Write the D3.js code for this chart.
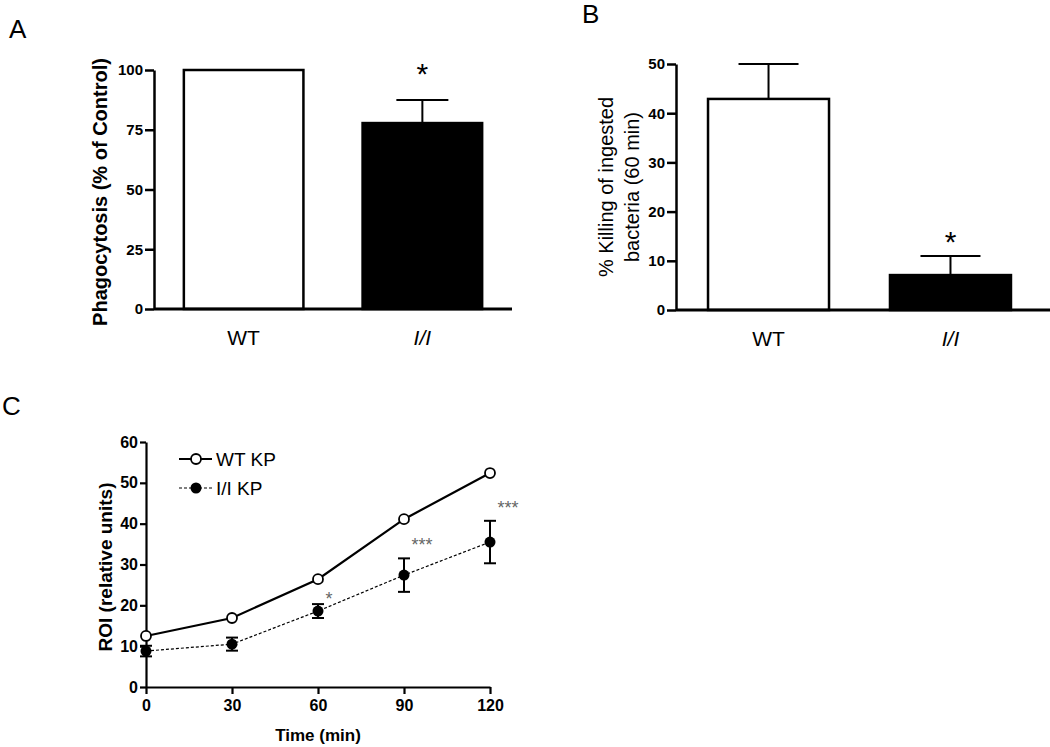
<!DOCTYPE html>
<html lang="en">
<head>
<meta charset="UTF-8">
<title>Phagocytosis, killing and ROI</title>
<script src="https://d3js.org/d3.v7.min.js"></script>
<style>
  body { margin: 0; background: #fff; }
  svg { font-family: "Liberation Sans", Arial, sans-serif; }
  .axis path, .axis line { stroke: #000; }
</style>
</head>
<body>
<svg id="chart" width="1050" height="747"></svg>
<script>
// panel A data
var groupsA = ["WT", "I/I"];
var phagoMean = [100, 77.8];
var phagoErr = [0, 9.6];
var ticksA = [0, 25, 50, 75, 100];

// panel B data
var groupsB = ["WT", "I/I"];
var killMean = [42.9, 7.1];
var killErr = [7.1, 3.9];
var ticksB = [0, 10, 20, 30, 40, 50];

// panel C data
var times = [0, 30, 60, 90, 120];
var wtROI = [12.5, 16.9, 26.4, 41.1, 52.4];
var iiROI = [8.8, 10.5, 18.6, 27.4, 35.5];
var iiErr = [1.3, 1.6, 1.7, 4.1, 5.2];
var sigC = ["", "", "*", "***", "***"];
var ticksCy = [0, 10, 20, 30, 40, 50, 60];

var svg = d3.select("#chart");

// panel letters
svg.append("text").attr("x", 9).attr("y", 38).text("A").style("font-size", "26px");
svg.append("text").attr("x", 582).attr("y", 23).text("B").style("font-size", "26px");
svg.append("text").attr("x", 2).attr("y", 415).text("C").style("font-size", "26px");

function styleTicks(ax, size, w) {
  ax.selectAll(".tick text").style("font-size", size + "px").style("font-weight", "bold")
    .attr("fill", "#000");
  ax.select(".domain").attr("stroke-width", w);
  ax.selectAll(".tick line").attr("stroke-width", w);
}

function barPanel(opt) {
  var g = svg.append("g");
  var y = d3.scaleLinear().domain(opt.domain).range(opt.yRange);
  var x = d3.scaleBand().domain(opt.groups).range(opt.xRange)
            .paddingInner(opt.pin).paddingOuter(opt.pout);

  // bars
  g.selectAll("rect.bar")
    .data(opt.groups)
    .join("rect")
      .attr("class", "bar")
      .attr("x", function(d){ return x(d); })
      .attr("y", function(d, i){ return y(opt.mean[i]); })
      .attr("width", x.bandwidth())
      .attr("height", function(d, i){ return y(0) - y(opt.mean[i]); })
      .attr("fill", function(d, i){ return i == 0 ? "#fff" : "#000"; })
      .attr("stroke", "#000")
      .attr("stroke-width", 2.5);

  // error bars (upward only)
  opt.groups.forEach(function(d, i){
    if (!opt.err[i]) return;
    var cx = x(d) + x.bandwidth() / 2;
    var top = y(opt.mean[i] + opt.err[i]);
    g.append("line").attr("x1", cx).attr("x2", cx)
      .attr("y1", y(opt.mean[i])).attr("y2", top)
      .attr("stroke", "#000").attr("stroke-width", 2);
    g.append("line").attr("x1", cx - opt.cap).attr("x2", cx + opt.cap)
      .attr("y1", top).attr("y2", top)
      .attr("stroke", "#000").attr("stroke-width", 2);
  });

  // significance star
  var si = 1;
  var sx = x(opt.groups[si]) + x.bandwidth() / 2;
  g.append("text").attr("x", sx).attr("y", y(opt.mean[si] + opt.err[si]) - opt.starGap)
    .attr("text-anchor", "middle").style("font-size", "30px").text("*");

  // y axis
  var ax = g.append("g").attr("class", "axis")
    .attr("transform", "translate(" + opt.xRange[0] + ",0)")
    .call(d3.axisLeft(y).tickValues(opt.ticks).tickSize(9).tickSizeOuter(0).tickPadding(2));
  styleTicks(ax, 15, 2.5);

  // x axis line
  g.append("line").attr("x1", opt.xRange[0]).attr("x2", opt.xEnd)
    .attr("y1", y(0)).attr("y2", y(0))
    .attr("stroke", "#000").attr("stroke-width", 3);

  // category labels
  g.selectAll("text.cat")
    .data(opt.groups)
    .join("text")
      .attr("class", "cat")
      .attr("x", function(d){ return x(d) + x.bandwidth() / 2; })
      .attr("y", y(0) + 36)
      .attr("text-anchor", "middle")
      .style("font-size", "21px")
      .style("font-style", function(d){ return d == "I/I" ? "italic" : "normal"; })
      .text(function(d){ return d; });

  // y label
  var lab = g.append("text")
    .attr("transform", "translate(" + opt.labX + "," + opt.labY + ") rotate(-90)")
    .attr("text-anchor", "middle")
    .attr("dominant-baseline", "central")
    .style("font-size", "20px")
    .style("font-weight", opt.labBold ? "bold" : "normal");
  opt.label.forEach(function(t, i){
    lab.append("tspan").attr("x", 0).attr("y", i * 26).text(t);
  });
}

barPanel({
  groups: groupsA, mean: phagoMean, err: phagoErr, ticks: ticksA,
  domain: [0, 100], yRange: [309, 70], xRange: [154, 512], xEnd: 512,
  pin: 0.331, pout: 0.167, cap: 26, starGap: 16,
  label: ["Phagocytosis (% of Control)"], labX: 100, labY: 192, labBold: true
});

barPanel({
  groups: groupsB, mean: killMean, err: killErr, ticks: ticksB,
  domain: [0, 50], yRange: [310, 64], xRange: [676, 1043], xEnd: 1050,
  pin: 0.335, pout: 0.176, cap: 30, starGap: 4,
  label: ["% Killing of ingested", "bacteria (60 min)"], labX: 606, labY: 187, labBold: false
});

// panel C: line chart
var gc = svg.append("g");
var xc = d3.scaleLinear().domain([0, 120]).range([146, 490]);
var yc = d3.scaleLinear().domain([0, 60]).range([687, 442]);

var yAx = gc.append("g").attr("class", "axis")
  .attr("transform", "translate(146,0)")
  .call(d3.axisLeft(yc).tickValues(ticksCy).tickSize(6).tickSizeOuter(0).tickPadding(2));
styleTicks(yAx, 16, 2.2);

var xAx = gc.append("g").attr("class", "axis")
  .attr("transform", "translate(0,687)")
  .call(d3.axisBottom(xc).tickValues(times).tickSize(7).tickSizeOuter(0).tickPadding(6));
styleTicks(xAx, 16, 2.2);

gc.append("text").attr("x", 318).attr("y", 741).attr("text-anchor", "middle")
  .style("font-size", "17px").style("font-weight", "bold").text("Time (min)");
gc.append("text").attr("transform", "translate(105,567) rotate(-90)")
  .attr("text-anchor", "middle").attr("dominant-baseline", "central")
  .style("font-size", "19px").style("font-weight", "bold")
  .text("ROI (relative units)");

var line = d3.line().x(function(d, i){ return xc(times[i]); }).y(function(d){ return yc(d); });

gc.append("path").datum(iiROI).attr("d", line).attr("fill", "none")
  .attr("stroke", "#000").attr("stroke-width", 1.2).attr("stroke-dasharray", "3,2");
gc.append("path").datum(wtROI).attr("d", line).attr("fill", "none")
  .attr("stroke", "#000").attr("stroke-width", 2.2);

// error bars for I/I
times.forEach(function(t, i){
  var cx = xc(t), t0 = yc(iiROI[i] + iiErr[i]), b0 = yc(iiROI[i] - iiErr[i]);
  gc.append("line").attr("x1", cx).attr("x2", cx).attr("y1", t0).attr("y2", b0)
    .attr("stroke", "#000").attr("stroke-width", 2);
  [t0, b0].forEach(function(yy){
    gc.append("line").attr("x1", cx - 6).attr("x2", cx + 6).attr("y1", yy).attr("y2", yy)
      .attr("stroke", "#000").attr("stroke-width", 2);
  });
});

gc.selectAll("circle.ii").data(iiROI).join("circle").attr("class", "ii")
  .attr("cx", function(d, i){ return xc(times[i]); })
  .attr("cy", function(d){ return yc(d); })
  .attr("r", 5.5).attr("fill", "#000");

gc.selectAll("circle.wt").data(wtROI).join("circle").attr("class", "wt")
  .attr("cx", function(d, i){ return xc(times[i]); })
  .attr("cy", function(d){ return yc(d); })
  .attr("r", 5).attr("fill", "#fff").attr("stroke", "#000").attr("stroke-width", 1.8);

// significance marks
gc.selectAll("text.sig").data(sigC).join("text").attr("class", "sig")
  .attr("x", function(d, i){ return xc(times[i]) + (d == "*" ? 11 : 18); })
  .attr("y", function(d, i){ return yc(iiROI[i] + iiErr[i]) + (d == "*" ? 1 : -7); })
  .attr("text-anchor", "middle")
  .style("font-size", "18px").style("fill", "#666")
  .text(function(d){ return d; });

// legend
var legend = [
  { name: "WT KP", fill: "#fff", dash: null, w: 2.2, y: 459 },
  { name: "I/I KP", fill: "#000", dash: "3,2", w: 1.2, y: 488 }
];
legend.forEach(function(l){
  gc.append("line").attr("x1", 179).attr("x2", 212).attr("y1", l.y).attr("y2", l.y)
    .attr("stroke", "#000").attr("stroke-width", l.w).attr("stroke-dasharray", l.dash);
  gc.append("circle").attr("cx", 196).attr("cy", l.y).attr("r", l.fill == "#fff" ? 5 : 5.5)
    .attr("fill", l.fill).attr("stroke", "#000").attr("stroke-width", l.fill == "#fff" ? 1.8 : 0);
  gc.append("text").attr("x", 216).attr("y", l.y + 7).style("font-size", "19px").text(l.name);
});
</script>
</body>
</html>
